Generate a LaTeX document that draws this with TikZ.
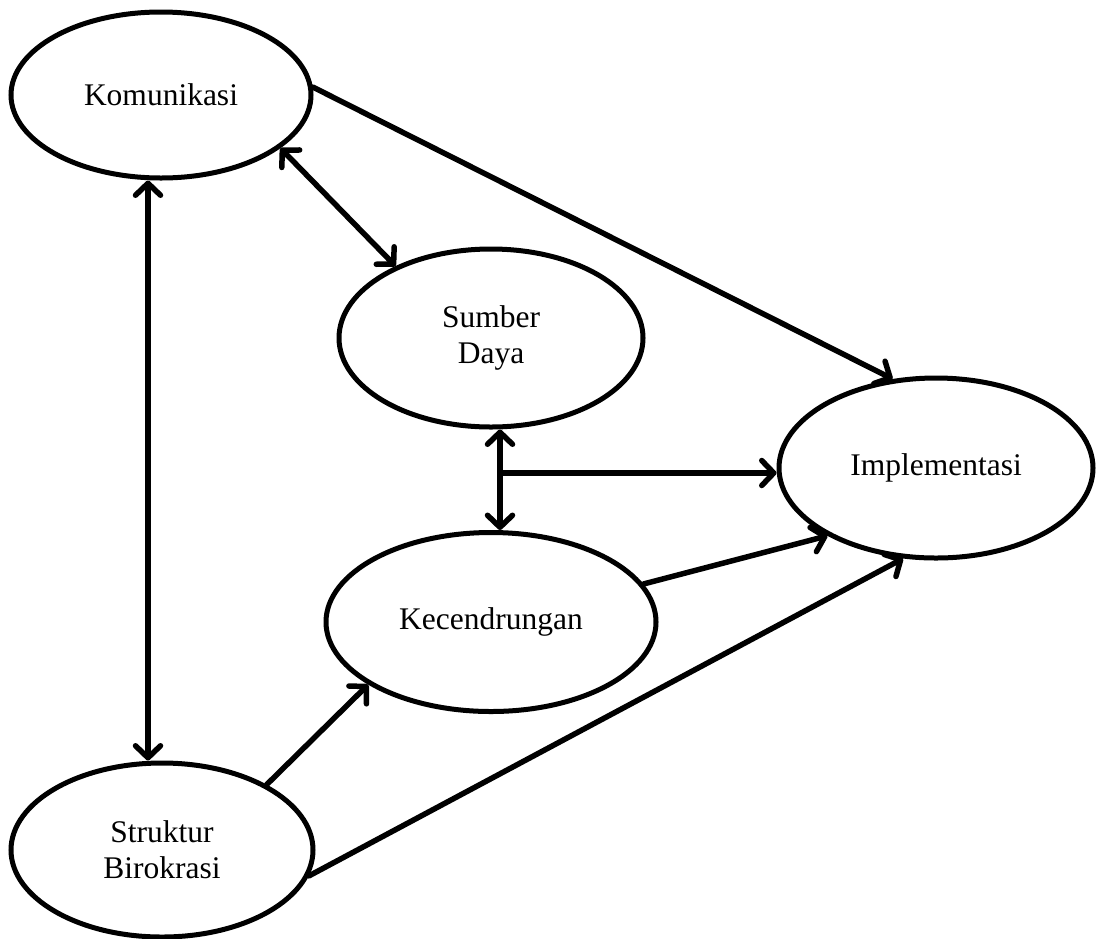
\documentclass[tikz,border=0pt]{standalone}
\usepackage{fontspec}
\setmainfont{Liberation Serif}
\usetikzlibrary{shapes.geometric,arrows.meta}
\tikzset{
  ell/.style={ellipse, draw, line width=5pt, inner sep=0pt, align=center,
    font=\fontsize{31.5}{36}\selectfont},
  conn/.style={line width=5.5pt, line cap=round},
  >={Straight Barb[length=12pt,width=25pt,line cap=round,line join=round]}
}
\begin{document}
\begin{tikzpicture}[x=1pt,y=-1pt]
\useasboundingbox (0,0) rectangle (1099,938);
\node[ell, minimum width=300pt, minimum height=166pt] (kom) at (161,95) {Komunikasi};
\node[ell, minimum width=304pt, minimum height=178pt] (sd) at (491,338) {Sumber\\Daya};
\node[ell, minimum width=314pt, minimum height=180pt] (imp) at (936,468) {Implementasi};
\node[ell, minimum width=330pt, minimum height=179pt] (kec) at (491,622) {Kecendrungan};
\node[ell, minimum width=302pt, minimum height=174pt] (str) at (162,850) {Struktur\\Birokrasi};
\coordinate (j) at (500,473);
% connectors
\draw[conn,->] (kom.3) -- (imp.116);
\draw[conn,<->] (kom.-24.3) -- (sd.143.6);
\draw[conn,<->] ([xshift=-13pt]kom.south) -- ([xshift=-14pt]str.north);
\draw[conn,<->] ([xshift=9pt]sd.south) -- ([xshift=9pt]kec.north);
\draw[conn,->] (j) -- (j -| imp.west);
\draw[conn,->] (kec.14.7) -- (imp.212.3);
\draw[conn,->] (str.-10.5) -- (imp.-110.1);
\draw[conn,->] (str.32.2) -- (kec.-153);
\end{tikzpicture}
\end{document}
